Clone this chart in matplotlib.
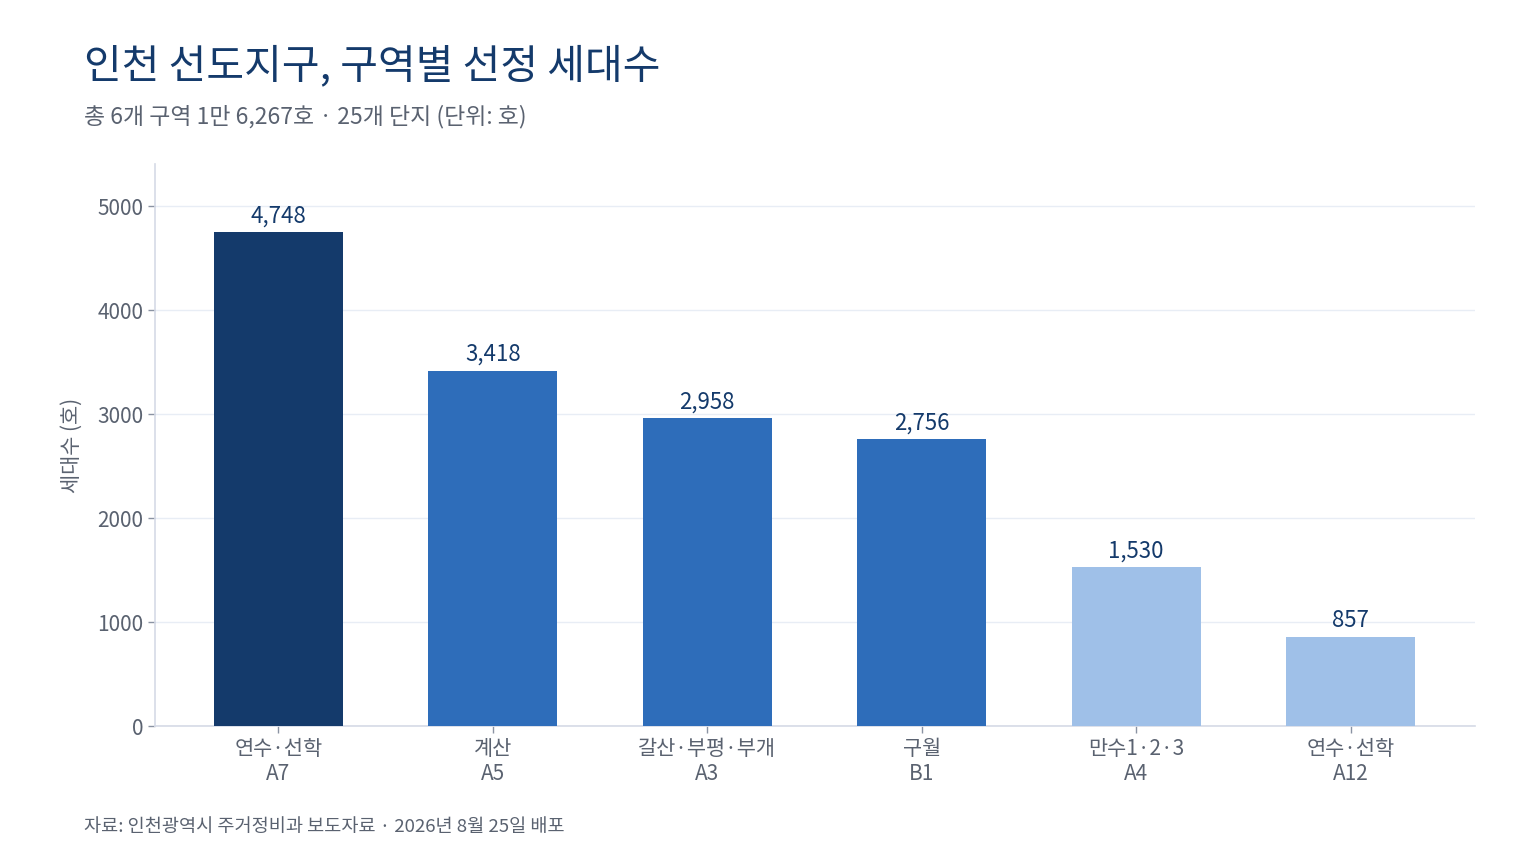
import numpy as np
import matplotlib
matplotlib.use("Agg")
import matplotlib.pyplot as plt

plt.rcParams['font.family'] = ['Noto Sans CJK KR', 'DejaVu Sans']

# 데이터
districts = ['연수·선학', '계산', '갈산·부평·부개', '구월', '만수1·2·3', '연수·선학']
codes = ['A7', 'A5', 'A3', 'B1', 'A4', 'A12']
households = [4748, 3418, 2958, 2756, 1530, 857]
colors = ['#143a6b', '#2e6dba', '#2e6dba', '#2e6dba', '#9fc0e8', '#9fc0e8']

fig = plt.figure(figsize=(15.36, 8.64), dpi=100)
ax = fig.add_axes([0.1009, 0.1597, 0.8594, 0.6505])

x = np.arange(len(households))
ax.bar(x, households, width=0.6, color=colors, zorder=3)

for xi, v in zip(x, households):
    ax.text(xi, v + 45, '{:,}'.format(v), ha='center', va='bottom',
            fontsize=16, color='#143a6b', zorder=4)

ax.set_xlim(-0.575, 5.58)
ax.set_ylim(0, 5404)
ax.set_yticks([0, 1000, 2000, 3000, 4000, 5000])
ax.set_xticks(x)
ax.set_xticklabels([d + '\n' + c for d, c in zip(districts, codes)])

ax.grid(axis='y', color='#e8edf5', linewidth=1, zorder=0)
ax.tick_params(axis='both', labelsize=15, colors='#5a6270', length=5, width=1)
ax.tick_params(axis='both', color='#8a93a3')
for s in ['top', 'right']:
    ax.spines[s].set_visible(False)
for s in ['left', 'bottom']:
    ax.spines[s].set_color('#d5dae6')
    ax.spines[s].set_linewidth(1.2)

ax.set_ylabel('세대수 (호)', fontsize=15, color='#5a6270', labelpad=10)

fig.text(0.055, 0.923, '인천 선도지구, 구역별 선정 세대수', fontsize=29.5,
         color='#143a6b', va='center', ha='left')
fig.text(0.055, 0.865, '총 6개 구역 1만 6,267호 · 25개 단지 (단위: 호)', fontsize=16.5,
         color='#5a6270', va='center', ha='left')
fig.text(0.055, 0.043, '자료: 인천광역시 주거정비과 보도자료 · 2026년 8월 25일 배포', fontsize=13.4,
         color='#5a6270', va='center', ha='left')

fig.savefig('out.png', dpi=100, facecolor='white')
